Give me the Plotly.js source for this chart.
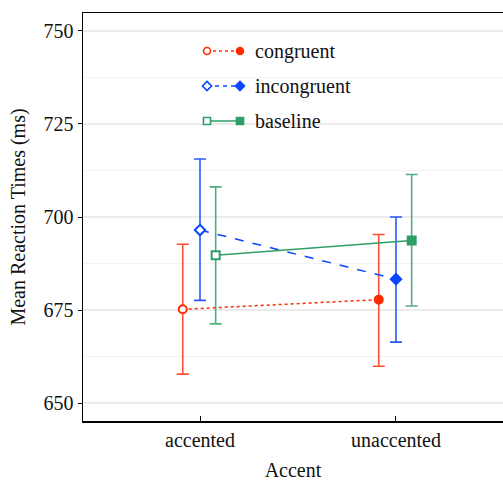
<!DOCTYPE html>
<html><head><meta charset="utf-8">
<script src="https://cdn.plot.ly/plotly-3.0.1.min.js"></script>
<style>html,body{margin:0;padding:0;background:#fff}</style>
</head><body><div id="chart" style="width:503px;height:481px"></div>
<script>
const categories = ["accented", "unaccented"];
const catPos = [1, 2];
const seriesNames = ["congruent", "incongruent", "baseline"];
const congruentMean = [675.2, 677.8];
const congruentLow = [657.8, 659.9];
const congruentHigh = [692.7, 695.3];
const incongruentMean = [696.5, 683.3];
const incongruentLow = [677.6, 666.4];
const incongruentHigh = [715.6, 700.0];
const baselineMean = [689.7, 693.7];
const baselineLow = [671.3, 676.1];
const baselineHigh = [708.1, 711.4];
const yTicks = [650, 675, 700, 725, 750];

const colors = ["#ff2a00", "#0a46ff", "#2e9e66"];
const errColors = ["rgba(255,60,30,0.9)", "rgba(20,70,255,0.9)", "rgba(50,160,105,0.85)"];
const dashes = ["dot", "4px,4px", "solid"];
const symbols = ["circle", "diamond", "square"];
const offsets = [-0.088, 0, 0.08];
const means = [congruentMean, incongruentMean, baselineMean];
const lows = [congruentLow, incongruentLow, baselineLow];
const highs = [congruentHigh, incongruentHigh, baselineHigh];

const font = "Liberation Serif, Times New Roman, serif";
const fsize = 20;
const traces = [];
seriesNames.forEach((name, i) => {
  traces.push({
    type: "scatter", mode: "lines+markers", name: name, showlegend: false,
    x: catPos.map(p => p + offsets[i]),
    y: means[i],
    line: {color: colors[i], width: 1.5, dash: i === 1 ? "dash" : dashes[i]},
    marker: {symbol: symbols[i], size: 8,
             color: ["#ffffff", colors[i]], line: {color: colors[i], width: 2}},
    error_y: {type: "data", symmetric: false,
              array: means[i].map((m, k) => highs[i][k] - m),
              arrayminus: means[i].map((m, k) => m - lows[i][k]),
              color: errColors[i], thickness: 1.6, width: 6},
    cliponaxis: false
  });
});
// legend drawn on an overlay axis (pixel-like units)
const legY = [38, 73, 108];
seriesNames.forEach((name, i) => {
  traces.push({
    type: "scatter", mode: "lines+markers", showlegend: false, hoverinfo: "skip",
    xaxis: "x2", yaxis: "y2",
    x: [124, 157], y: [legY[i], legY[i]],
    line: {color: colors[i], width: 1.5, dash: dashes[i]},
    marker: {symbol: symbols[i], size: 7,
             color: ["#ffffff", colors[i]], line: {color: colors[i], width: 1.6}}
  });
});
const annotations = seriesNames.map((name, i) => ({
  xref: "paper", yref: "paper", x: 170 / 420, y: 1 - legY[i] / 408, text: name, showarrow: false,
  xanchor: "left", yanchor: "middle", font: {family: font, size: fsize, color: "#111"}
}));

const layout = {
  width: 503, height: 481,
  margin: {l: 83, r: 0, t: 13, b: 60},
  paper_bgcolor: "#fff", plot_bgcolor: "#fff",
  font: {family: font, color: "#111", size: fsize},
  showlegend: false,
  xaxis: {
    range: [0.403, 2.546], tickvals: catPos, ticktext: categories,
    showgrid: false, zeroline: false, showline: true, mirror: true,
    linecolor: "#000", linewidth: 1.5, ticks: "inside", ticklen: 5, tickcolor: "#000",
    tickfont: {family: font, size: fsize, color: "#111"},
    title: {text: "Accent", font: {family: font, size: fsize, color: "#111"}, standoff: 14}
  },
  yaxis: {
    range: [645.2, 754.8], tickvals: yTicks,
    showgrid: true, gridcolor: "#ebebeb", gridwidth: 1.5, zeroline: false,
    showline: true, mirror: true, linecolor: "#000", linewidth: 1.5,
    ticks: "outside", ticklen: 4, tickcolor: "#000",
    minor: {dtick: 12.5, tick0: 637.5, showgrid: true, gridcolor: "#f3f3f3", gridwidth: 1, ticks: ""},
    tickfont: {family: font, size: fsize, color: "#111"},
    title: {text: "Mean Reaction Times (ms)", font: {family: font, size: fsize, color: "#111"}, standoff: 12}
  },
  xaxis2: {overlaying: "x", range: [0, 420], visible: false, fixedrange: true},
  yaxis2: {overlaying: "y", range: [408, 0], visible: false, fixedrange: true},
  annotations: annotations
};
Plotly.newPlot("chart", traces, layout, {displayModeBar: false, staticPlot: true});
</script></body></html>
